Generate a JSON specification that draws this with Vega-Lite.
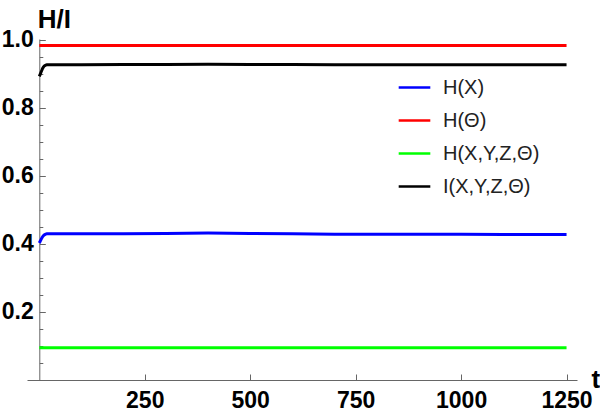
{
  "$schema": "https://vega.github.io/schema/vega-lite/v6.json",
  "width": 550,
  "height": 341,
  "autosize": {"type": "none"},
  "padding": {"left": 27, "top": 39, "right": 23, "bottom": 33},
  "background": "white",
  "config": {
    "view": {"stroke": null},
    "font": "Liberation Sans"
  },
  "data": {
    "values": [
      {"s": "H(X)", "t": 0, "v": 0.403},
      {"s": "H(X)", "t": 2, "v": 0.408},
      {"s": "H(X)", "t": 4, "v": 0.413},
      {"s": "H(X)", "t": 6, "v": 0.418},
      {"s": "H(X)", "t": 8, "v": 0.422},
      {"s": "H(X)", "t": 10, "v": 0.425},
      {"s": "H(X)", "t": 12, "v": 0.427},
      {"s": "H(X)", "t": 15, "v": 0.429},
      {"s": "H(X)", "t": 18, "v": 0.430},
      {"s": "H(X)", "t": 22, "v": 0.430},
      {"s": "H(X)", "t": 50, "v": 0.430},
      {"s": "H(X)", "t": 100, "v": 0.430},
      {"s": "H(X)", "t": 200, "v": 0.430},
      {"s": "H(X)", "t": 300, "v": 0.431},
      {"s": "H(X)", "t": 400, "v": 0.432},
      {"s": "H(X)", "t": 500, "v": 0.431},
      {"s": "H(X)", "t": 600, "v": 0.430},
      {"s": "H(X)", "t": 700, "v": 0.429},
      {"s": "H(X)", "t": 800, "v": 0.429},
      {"s": "H(X)", "t": 900, "v": 0.429},
      {"s": "H(X)", "t": 1000, "v": 0.429},
      {"s": "H(X)", "t": 1100, "v": 0.428},
      {"s": "H(X)", "t": 1250, "v": 0.428},
      {"s": "H(Θ)", "t": 0, "v": 0.984},
      {"s": "H(Θ)", "t": 1250, "v": 0.984},
      {"s": "H(X,Y,Z,Θ)", "t": 0, "v": 0.095},
      {"s": "H(X,Y,Z,Θ)", "t": 1250, "v": 0.095},
      {"s": "I(X,Y,Z,Θ)", "t": 0, "v": 0.893},
      {"s": "I(X,Y,Z,Θ)", "t": 2, "v": 0.899},
      {"s": "I(X,Y,Z,Θ)", "t": 4, "v": 0.905},
      {"s": "I(X,Y,Z,Θ)", "t": 6, "v": 0.911},
      {"s": "I(X,Y,Z,Θ)", "t": 8, "v": 0.917},
      {"s": "I(X,Y,Z,Θ)", "t": 10, "v": 0.921},
      {"s": "I(X,Y,Z,Θ)", "t": 12, "v": 0.924},
      {"s": "I(X,Y,Z,Θ)", "t": 15, "v": 0.926},
      {"s": "I(X,Y,Z,Θ)", "t": 18, "v": 0.927},
      {"s": "I(X,Y,Z,Θ)", "t": 22, "v": 0.927},
      {"s": "I(X,Y,Z,Θ)", "t": 50, "v": 0.927},
      {"s": "I(X,Y,Z,Θ)", "t": 100, "v": 0.927},
      {"s": "I(X,Y,Z,Θ)", "t": 200, "v": 0.928},
      {"s": "I(X,Y,Z,Θ)", "t": 300, "v": 0.928},
      {"s": "I(X,Y,Z,Θ)", "t": 400, "v": 0.929},
      {"s": "I(X,Y,Z,Θ)", "t": 500, "v": 0.928},
      {"s": "I(X,Y,Z,Θ)", "t": 600, "v": 0.928},
      {"s": "I(X,Y,Z,Θ)", "t": 700, "v": 0.927},
      {"s": "I(X,Y,Z,Θ)", "t": 800, "v": 0.927},
      {"s": "I(X,Y,Z,Θ)", "t": 900, "v": 0.927},
      {"s": "I(X,Y,Z,Θ)", "t": 1000, "v": 0.927},
      {"s": "I(X,Y,Z,Θ)", "t": 1100, "v": 0.927},
      {"s": "I(X,Y,Z,Θ)", "t": 1250, "v": 0.927}
    ]
  },
  "mark": {"type": "line", "strokeWidth": 3},
  "encoding": {
    "x": {
      "field": "t",
      "type": "quantitative",
      "scale": {"domain": [-29.2, 1274.8], "nice": false, "zero": false},
      "axis": {
        "title": "t",
        "titleFont": "Liberation Sans",
        "titleFontSize": 26,
        "titleFontWeight": "bold",
        "titleAngle": 0,
        "titleAlign": "left",
        "titleBaseline": "alphabetic",
        "titleX": 564,
        "titleY": 7,
        "values": [250, 500, 750, 1000, 1250],
        "format": "d",
        "grid": false,
        "domainColor": "#666666",
        "domainWidth": 1,
        "tickColor": "#666666",
        "tickWidth": 1,
        "tickSize": -6,
        "labelPadding": 15,
        "labelFont": "Liberation Sans",
        "labelFontSize": 23,
        "labelFontWeight": "bold",
        "labelColor": "black",
        "labelFlush": false,
        "labelOverlap": false
      }
    },
    "y": {
      "field": "v",
      "type": "quantitative",
      "scale": {"domain": [0, 1.0029], "nice": false},
      "axis": {
        "title": "H/I",
        "titleFont": "Liberation Sans",
        "titleFontSize": 26,
        "titleFontWeight": "bold",
        "titleAngle": 0,
        "titleAlign": "left",
        "titleBaseline": "alphabetic",
        "titleX": -2,
        "titleY": -12,
        "offset": -12.3,
        "values": [0.05, 0.1, 0.15, 0.2, 0.25, 0.3, 0.35, 0.4, 0.45, 0.5, 0.55, 0.6, 0.65, 0.7, 0.75, 0.8, 0.85, 0.9, 0.95, 1.0],
        "labelExpr": "abs(datum.value*5 - round(datum.value*5)) < 0.001 ? format(datum.value, '.1f') : ''",
        "grid": false,
        "domainColor": "#666666",
        "domainWidth": 1,
        "tickColor": "#666666",
        "tickWidth": 1,
        "tickSize": {"condition": {"test": "abs(datum.value*5 - round(datum.value*5)) < 0.001", "value": -6}, "value": -3.5},
        "labelPadding": 12,
        "labelFont": "Liberation Sans",
        "labelFontSize": 23,
        "labelFontWeight": "bold",
        "labelColor": "black",
        "labelFlush": false,
        "labelOverlap": false
      }
    },
    "color": {
      "field": "s",
      "type": "nominal",
      "sort": ["H(X)", "H(Θ)", "H(X,Y,Z,Θ)", "I(X,Y,Z,Θ)"],
      "scale": {
        "domain": ["H(X)", "H(Θ)", "H(X,Y,Z,Θ)", "I(X,Y,Z,Θ)"],
        "range": ["#0000ff", "#ff0000", "#00ff00", "#000000"]
      },
      "legend": {
        "title": null,
        "orient": "none",
        "legendX": 370,
        "legendY": 31,
        "padding": 0,
        "symbolType": "stroke",
        "symbolSize": 1000,
        "symbolStrokeWidth": 2.5,
        "rowPadding": 5,
        "labelOffset": 11,
        "labelFont": "Liberation Sans",
        "labelFontSize": 20,
        "labelColor": "#222222",
        "labelLimit": 300
      }
    }
  }
}
